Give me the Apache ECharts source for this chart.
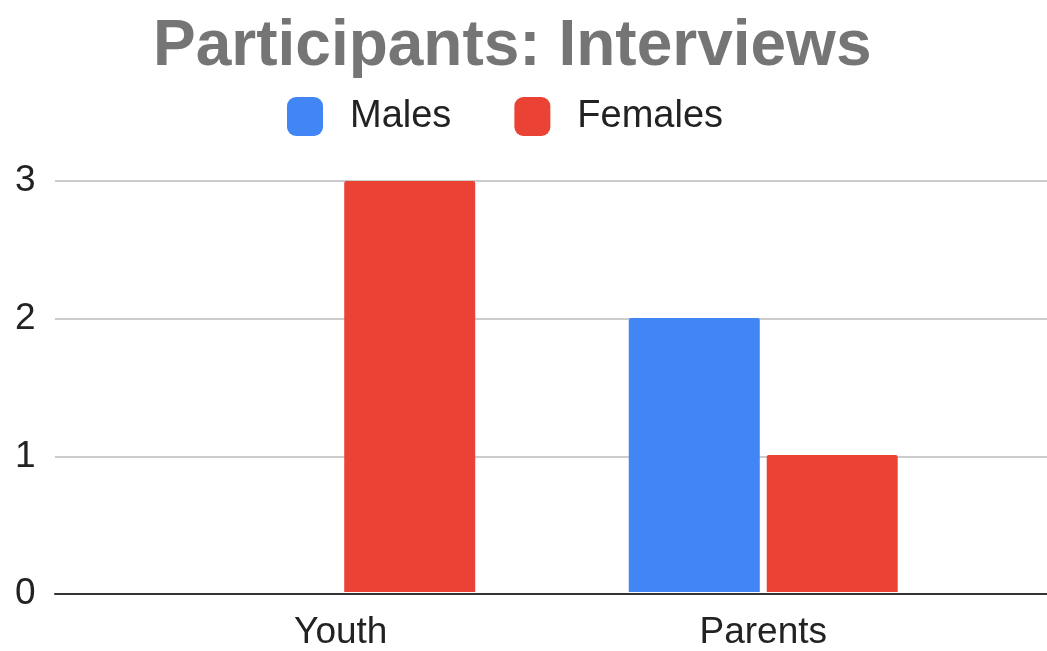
<!DOCTYPE html>
<html>
<head>
<meta charset="utf-8">
<script src="https://cdn.jsdelivr.net/npm/echarts@6/dist/echarts.min.js"></script>
<style>
  html, body { margin: 0; padding: 0; background: #fff; }
  #main { width: 1047px; height: 651px; }
</style>
</head>
<body>
<div id="main"></div>
<script>
var myChart = echarts.init(document.getElementById('main'))
var font = '"Liberation Sans", Arial, sans-serif'

// 数据
var categories = ['Youth', 'Parents']
var males = [0, 2]
var females = [3, 1]
var yTicks = [0, 1, 2, 3]

var option = {
  animation: false,
  color: ['#4285F4', '#EA4335'],
  title: {
    text: 'Participants: Interviews',
    left: 153,
    top: 15,
    padding: 0,
    textStyle: { fontFamily: font, fontSize: 64, fontWeight: 'bold', color: '#757575' }
  },
  legend: {
    left: 287,
    top: 97,
    padding: 0,
    itemWidth: 36,
    itemHeight: 39,
    itemGap: 63,
    icon: 'roundRect',
    textStyle: { fontFamily: font, fontSize: 38, color: '#222', padding: [2, 0, 0, 22] },
    data: ['Males', 'Females']
  },
  grid: [
    // 网格线和基线
    { left: 55, right: 0, top: 181, bottom: 57 },
    // 柱子
    { left: 129.5, right: 72.5, top: 181, bottom: 57 }
  ],
  xAxis: [
    {
      gridIndex: 0,
      type: 'value',
      min: 0,
      max: 1,
      axisLine: { show: true, onZero: false, lineStyle: { color: '#333', width: 2 } },
      axisTick: { show: false },
      axisLabel: { show: false },
      splitLine: { show: false }
    },
    {
      gridIndex: 1,
      type: 'category',
      data: categories,
      axisLine: { show: false },
      axisTick: { show: false },
      axisLabel: { fontFamily: font, fontSize: 37, color: '#222', margin: 22 }
    }
  ],
  yAxis: [
    {
      gridIndex: 0,
      type: 'value',
      min: yTicks[0],
      max: yTicks[yTicks.length - 1],
      interval: 1,
      axisLine: { show: false },
      axisTick: { show: false },
      axisLabel: { fontFamily: font, fontSize: 37, color: '#222', align: 'left', margin: 40, padding: [5, 0, 0, 0] },
      splitLine: { lineStyle: { color: '#cccccc', width: 2 } }
    },
    {
      gridIndex: 1,
      type: 'value',
      min: yTicks[0],
      max: yTicks[yTicks.length - 1],
      interval: 1,
      show: false
    }
  ],
  series: [
    {
      name: 'Males',
      type: 'bar',
      xAxisIndex: 1,
      yAxisIndex: 1,
      barWidth: 131,
      barGap: '5.3%',
      z: 1,
      itemStyle: { borderRadius: [2, 2, 0, 0] },
      data: males
    },
    {
      name: 'Females',
      type: 'bar',
      xAxisIndex: 1,
      yAxisIndex: 1,
      barWidth: 131,
      barGap: '5.3%',
      z: 1,
      itemStyle: { borderRadius: [2, 2, 0, 0] },
      data: females
    }
  ]
}

myChart.setOption(option)
</script>
</body>
</html>
